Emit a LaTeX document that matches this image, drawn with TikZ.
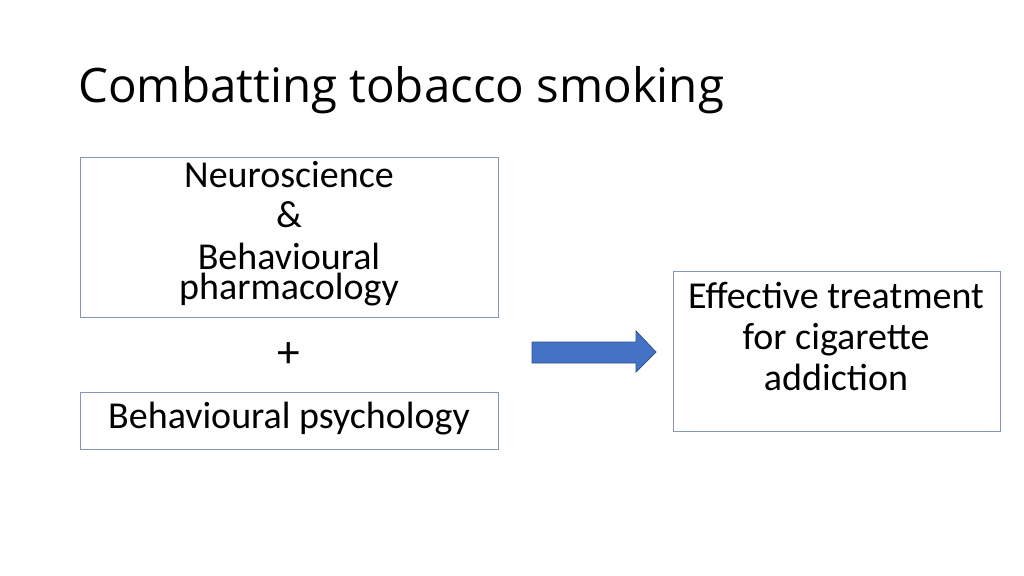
\documentclass[tikz,border=0pt]{standalone}
\usepackage{fontspec}
\setmainfont{Carlito}
\newfontfamily\titlefont{Open Sans}
\definecolor{boxc}{HTML}{8497B0}
\definecolor{arrf}{HTML}{4472C4}
\definecolor{arrd}{HTML}{2F528F}
\begin{document}
\begin{tikzpicture}[x=0.75pt,y=-0.75pt,
  box/.style={draw=boxc,line width=0.6pt},
  txt/.style={font=\fontsize{28.5}{30}\selectfont,inner sep=0pt,anchor=base}]
\useasboundingbox (0,0) rectangle (1024,575);
\node[font=\titlefont\fontsize{35.6}{40}\selectfont,anchor=base west,inner sep=0pt] (title) at (78,102) {Combatting tobacco smoking};
\draw[box] (80,157) rectangle (498,317);
\node[box,minimum width=418*0.75pt,minimum height=57*0.75pt,draw=boxc,inner sep=0pt] (psy) at (289,420.5) {};
\draw[box] (673,271) rectangle (1000,431);
\node[txt] (n1) at (289,187) {Neuroscience};
\node[txt] (n2) at (289,227) {\&};
\node[txt] (n3) at (289,269) {Behavioural};
\node[txt] (n4) at (289,299) {pharmacology};
\node[txt,font=\fontsize{34}{36}\selectfont,anchor=center] (plus) at (289,355) {+};
\node[txt] (p1) at (289,428) {Behavioural psychology};
\node[txt] (e1) at (836,308) {Effective treatment};
\node[txt] (e2) at (836,349) {for cigarette};
\node[txt] (e3) at (836,390) {addiction};
\draw[draw=arrd,fill=arrf,line width=0.6pt] (532,342) -- (636,342) -- (636,331) -- (656,352) -- (636,372) -- (636,363) -- (532,363) -- cycle;
\end{tikzpicture}
\end{document}
